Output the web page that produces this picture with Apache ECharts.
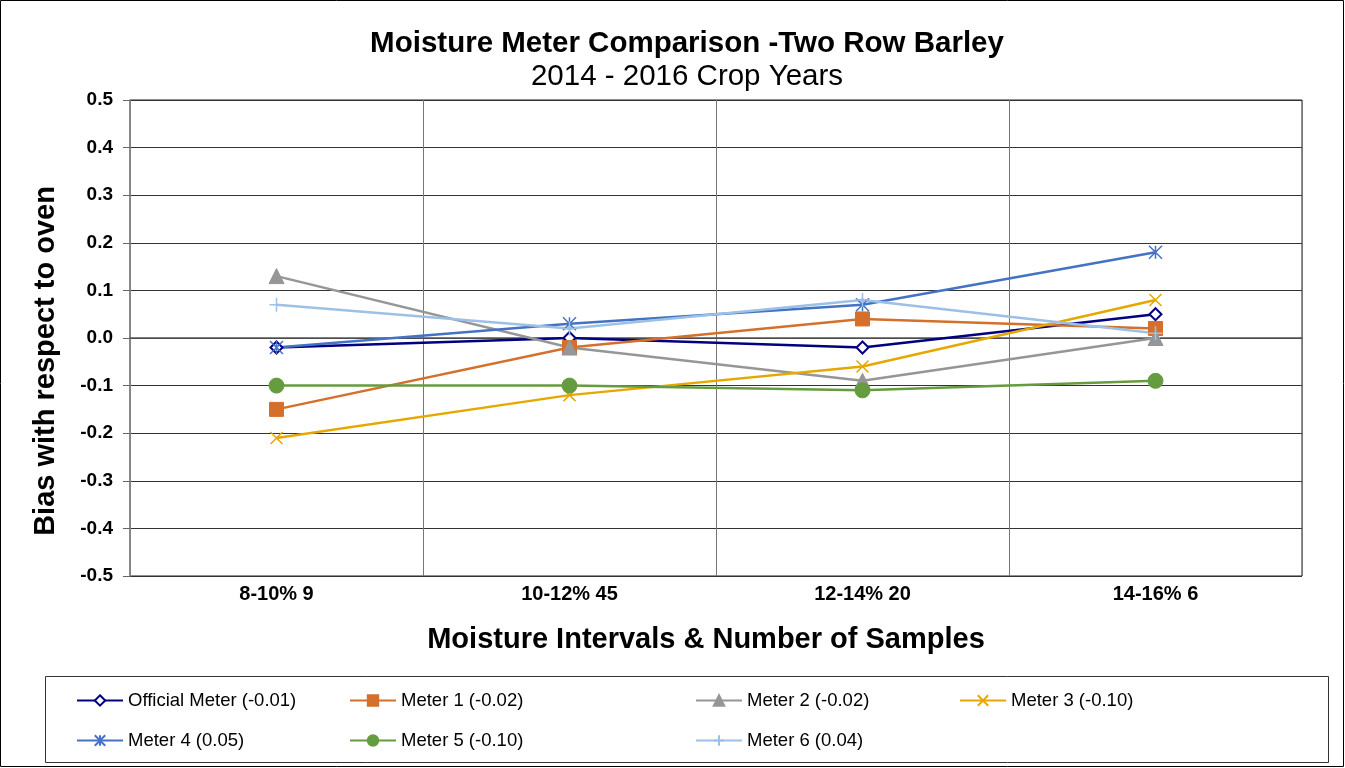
<!DOCTYPE html>
<html>
<head>
<meta charset="utf-8">
<script src="https://cdn.jsdelivr.net/npm/echarts@6/dist/echarts.min.js"></script>
<style>
  html, body { margin: 0; padding: 0; background: #fff; }
  #chart { width: 1345px; height: 768px; }
</style>
</head>
<body>
<div id="chart"></div>
<script>
const categories = ['8-10% 9', '10-12% 45', '12-14% 20', '14-16% 6']
const officialMeter = [-0.02, 0.00, -0.02, 0.05]
const meter1 = [-0.15, -0.02, 0.04, 0.02]
const meter2 = [0.13, -0.02, -0.09, 0.00]
const meter3 = [-0.21, -0.12, -0.06, 0.08]
const meter4 = [-0.02, 0.03, 0.07, 0.18]
const meter5 = [-0.10, -0.10, -0.11, -0.09]
const meter6 = [0.07, 0.02, 0.08, 0.01]
const seriesNames = ['Official Meter (-0.01)', 'Meter 1 (-0.02)', 'Meter 2 (-0.02)', 'Meter 3 (-0.10)',
    'Meter 4 (0.05)', 'Meter 5 (-0.10)', 'Meter 6 (0.04)']

const font = 'Liberation Sans, Arial, sans-serif'
const crossPath = 'path://M0,0L10,10M10,0L0,10'
const starPath = 'path://M0,0L10,10M10,0L0,10M5,0L5,10'
const plusPath = 'path://M5,0L5,10M0,5L10,5'

function makeLine(name, data, color, symbol, size, stroked) {
    return {
        name: name,
        type: 'line',
        data: data,
        symbol: symbol,
        symbolSize: size,
        showAllSymbol: true,
        lineStyle: { color: color, width: 2.5 },
        itemStyle: stroked
            ? { color: 'rgba(0,0,0,0)', borderColor: color, borderWidth: 1.5 }
            : { color: color, borderColor: color, borderWidth: 1 },
        emphasis: { disabled: true },
        z: 3
    }
}

const legendText = { fontFamily: font, fontSize: 18.5, color: '#000' }
function legendCol(left, names) {
    return {
        left: left,
        top: 691,
        padding: 0,
        orient: 'vertical',
        itemWidth: 46,
        itemHeight: 13,
        itemGap: 21,
        textStyle: legendText,
        data: names
    }
}

let chart = echarts.init(document.getElementById('chart'))
let options = {
    backgroundColor: '#fff',
    animation: false,
    title: {
        text: 'Moisture Meter Comparison -Two Row Barley',
        subtext: '2014 - 2016 Crop Years',
        left: 682,
        textAlign: 'center',
        top: 24,
        itemGap: 3,
        textStyle: { fontFamily: font, fontSize: 29.5, fontWeight: 'bold', color: '#000' },
        subtextStyle: { fontFamily: font, fontSize: 29.5, color: '#000' }
    },
    legend: [
        legendCol(76, [seriesNames[0], seriesNames[4]]),
        legendCol(349, [seriesNames[1], seriesNames[5]]),
        legendCol(695, [seriesNames[2], seriesNames[6]]),
        legendCol(959, [seriesNames[3]])
    ],
    graphic: [
        {
            type: 'rect',
            shape: { x: 0.5, y: 0.5, width: 1343, height: 766 },
            style: { fill: null, stroke: '#000', lineWidth: 1 },
            silent: true
        },
        {
            type: 'rect',
            shape: { x: 45.5, y: 676.5, width: 1283, height: 86 },
            style: { fill: null, stroke: '#333', lineWidth: 1 },
            silent: true
        }
    ],
    grid: {
        left: 130,
        right: 43,
        top: 100,
        bottom: 192,
        show: true,
        borderColor: '#222',
        borderWidth: 1
    },
    xAxis: {
        type: 'category',
        data: categories,
        boundaryGap: true,
        name: 'Moisture Intervals & Number of Samples',
        nameLocation: 'middle',
        nameGap: 49,
        nameTextStyle: { fontFamily: font, fontSize: 29, fontWeight: 'bold', color: '#000', padding: [0, 20, 0, 0] },
        axisLine: { lineStyle: { color: '#555', width: 1.5 } },
        axisTick: { show: false },
        axisLabel: { fontFamily: font, fontSize: 20, fontWeight: 'bold', color: '#000', margin: 8 },
        splitLine: { show: true, lineStyle: { color: '#777', width: 1 } }
    },
    yAxis: {
        type: 'value',
        min: -0.5,
        max: 0.5,
        interval: 0.1,
        name: 'Bias with respect to oven',
        nameLocation: 'middle',
        nameGap: 70,
        nameTextStyle: { fontFamily: font, fontSize: 29, fontWeight: 'bold', color: '#000', padding: [0, 46, 0, 0] },
        axisLine: { show: true, lineStyle: { color: '#888', width: 1.5 } },
        axisTick: { show: true, length: 7, lineStyle: { color: '#666' } },
        axisLabel: {
            fontFamily: font, fontSize: 19, fontWeight: 'bold', color: '#000', margin: 17,
            formatter: v => v.toFixed(1)
        },
        splitLine: { show: true, lineStyle: { color: '#333', width: 1 } }
    },
    series: [
        makeLine(seriesNames[0], officialMeter, '#000080', 'emptyDiamond', 12, false),
        makeLine(seriesNames[1], meter1, '#D4702C', 'rect', 14, false),
        makeLine(seriesNames[2], meter2, '#969696', 'triangle', 15, false),
        makeLine(seriesNames[3], meter3, '#E6A800', crossPath, 12, true),
        makeLine(seriesNames[4], meter4, '#4472C4', starPath, 13, true),
        makeLine(seriesNames[5], meter5, '#659C40', 'circle', 15, false),
        makeLine(seriesNames[6], meter6, '#9DC0E6', plusPath, 14, true)
    ]
}
chart.setOption(options)
</script>
</body>
</html>
